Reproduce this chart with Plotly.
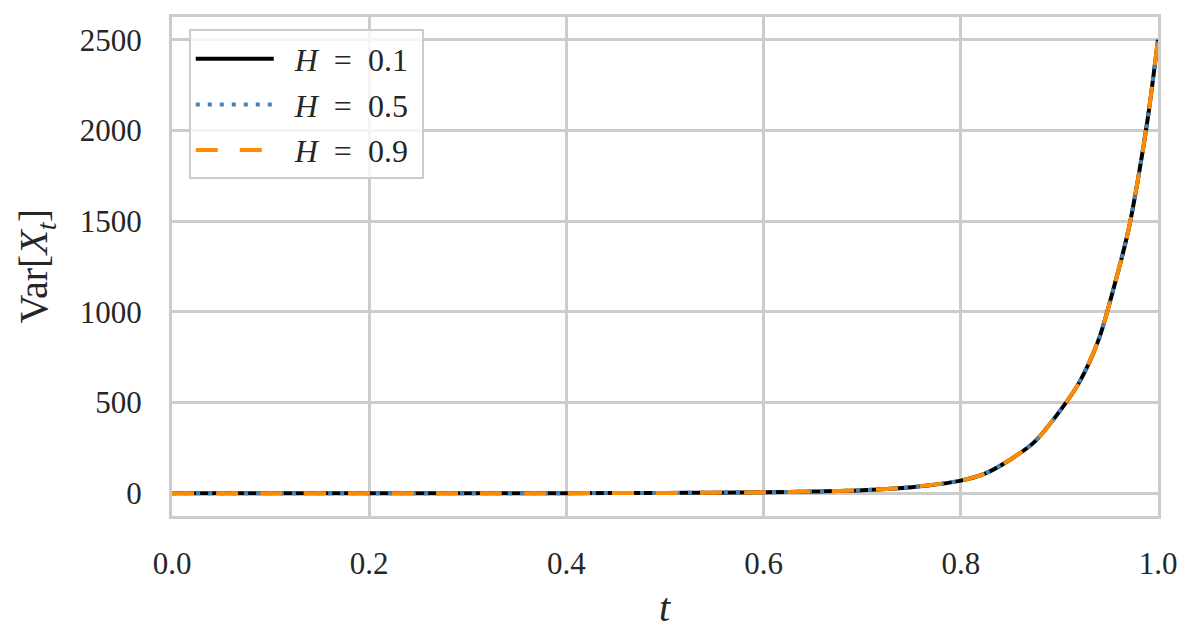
import plotly.graph_objects as go

# Data
t_vals = [0.0, 0.1, 0.2, 0.3, 0.4, 0.5, 0.55, 0.6, 0.65, 0.7, 0.75, 0.8, 0.825,
          0.85, 0.875, 0.9, 0.92, 0.94, 0.955, 0.97, 0.98, 0.99, 1.0]
var_h01 = [0.0, 0.1, 0.2, 0.4, 0.9, 2, 3.5, 6, 10, 17, 34, 70, 110,
           185, 285, 450, 610, 850, 1130, 1450, 1740, 2080, 2500]
var_h05 = [0.0, 0.1, 0.2, 0.4, 0.9, 2, 3.5, 6, 10, 17, 34, 70, 110,
           185, 285, 450, 610, 850, 1130, 1450, 1740, 2080, 2500]
var_h09 = [0.0, 0.1, 0.2, 0.4, 0.9, 2, 3.5, 6, 10, 17, 34, 70, 110,
           185, 285, 450, 610, 850, 1130, 1450, 1740, 2080, 2500]
labels = ["&nbsp;&nbsp;<i>H</i>&nbsp;&nbsp;=&nbsp;&nbsp;0.1&nbsp;",
          "&nbsp;&nbsp;<i>H</i>&nbsp;&nbsp;=&nbsp;&nbsp;0.5&nbsp;",
          "&nbsp;&nbsp;<i>H</i>&nbsp;&nbsp;=&nbsp;&nbsp;0.9&nbsp;"]
x_ticks = [0.0, 0.2, 0.4, 0.6, 0.8, 1.0]
y_ticks = [0, 500, 1000, 1500, 2000, 2500]

FONT = "Liberation Serif"
GRID = "#cccccc"
TXT = "#262626"

fig = go.Figure()
fig.add_trace(go.Scatter(x=t_vals, y=var_h01, mode="lines", name=labels[0], legendgroup="a",
                         line=dict(color="black", width=4, shape="spline", smoothing=0.8)))
fig.add_trace(go.Scatter(x=t_vals, y=var_h05, mode="lines", name=labels[1], legendgroup="b",
                         line=dict(color="#4682B4", width=4, dash="4px,8px",
                                   shape="spline", smoothing=0.8)))
fig.add_trace(go.Scatter(x=t_vals, y=var_h09, mode="lines", name=labels[2], legendgroup="c",
                         line=dict(color="#FF8C00", width=4, dash="22px,22px",
                                   shape="spline", smoothing=0.8)))

fig.update_layout(
    width=1196, height=635,
    margin=dict(l=164, r=46, t=6, b=127),
    paper_bgcolor="white", plot_bgcolor="white",
    font=dict(family=FONT, size=31, color=TXT),
    showlegend=True,
    legend=dict(x=0.017, y=0.975, xanchor="left", yanchor="top",
                bgcolor="rgba(255,255,255,0.8)", bordercolor=GRID, borderwidth=2,
                font=dict(family=FONT, size=32, color=TXT),
                tracegroupgap=1, itemwidth=78),
    xaxis=dict(range=[0, 1], tickvals=x_ticks, tickformat=".1f",
               showgrid=True, gridcolor=GRID, gridwidth=2.5,
               showline=True, linecolor=GRID, linewidth=3, mirror=True,
               zeroline=False, ticks="", ticklabelstandoff=18,
               tickfont=dict(family=FONT, size=31, color=TXT)),
    yaxis=dict(range=[-125, 2625], tickvals=y_ticks,
               showgrid=True, gridcolor=GRID, gridwidth=2.5,
               showline=True, linecolor=GRID, linewidth=3, mirror=True,
               zeroline=False, ticks="", ticklabelstandoff=21,
               tickfont=dict(family=FONT, size=31, color=TXT)),
    annotations=[
        dict(text="Var[<i>X</i><sub><i>t</i></sub>]", textangle=-90,
             xref="paper", yref="paper", x=-0.138, y=0.5,
             xanchor="center", yanchor="middle", showarrow=False,
             font=dict(family=FONT, size=40, color=TXT)),
        dict(text="<i>t</i>", xref="paper", yref="paper", x=0.5, y=-0.183,
             xanchor="center", yanchor="middle", showarrow=False,
             font=dict(family=FONT, size=40, color=TXT)),
    ],
)

fig.write_html("out.html")
